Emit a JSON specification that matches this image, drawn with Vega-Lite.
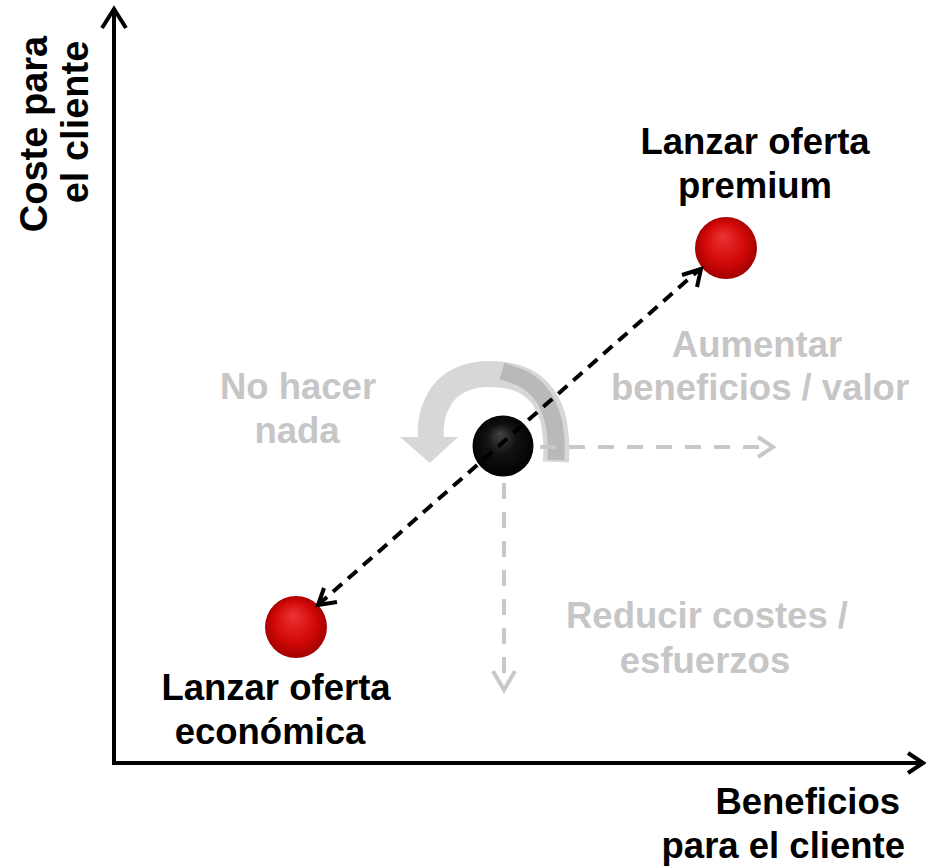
{
  "$schema": "https://vega.github.io/schema/vega-lite/v6.json",
  "width": 926,
  "height": 867,
  "padding": 0,
  "autosize": {"type": "none"},
  "background": "white",
  "config": {"view": {"stroke": null}},
  "datasets": {
    "trazos": [
      {"serie": "eje_y", "x": 114, "y": 102, "orden": 1},
      {"serie": "eje_y", "x": 114, "y": 857, "orden": 2},
      {"serie": "punta_y", "x": 102, "y": 839, "orden": 1},
      {"serie": "punta_y", "x": 114, "y": 858, "orden": 2},
      {"serie": "punta_y", "x": 126, "y": 839, "orden": 3},
      {"serie": "eje_x", "x": 112, "y": 104, "orden": 1},
      {"serie": "eje_x", "x": 922, "y": 104, "orden": 2},
      {"serie": "punta_x", "x": 908, "y": 114, "orden": 1},
      {"serie": "punta_x", "x": 923, "y": 104, "orden": 2},
      {"serie": "punta_x", "x": 908, "y": 94, "orden": 3},
      {"serie": "flecha_negra", "x": 318, "y": 262, "orden": 1},
      {"serie": "flecha_negra", "x": 700, "y": 598, "orden": 2},
      {"serie": "punta_negra_sup", "x": 682, "y": 592, "orden": 1},
      {"serie": "punta_negra_sup", "x": 701, "y": 598, "orden": 2},
      {"serie": "punta_negra_sup", "x": 697, "y": 580, "orden": 3},
      {"serie": "punta_negra_inf", "x": 337, "y": 265, "orden": 1},
      {"serie": "punta_negra_inf", "x": 318, "y": 262, "orden": 2},
      {"serie": "punta_negra_inf", "x": 324, "y": 279, "orden": 3},
      {"serie": "gris_h", "x": 540, "y": 420, "orden": 1},
      {"serie": "gris_h", "x": 772, "y": 420, "orden": 2},
      {"serie": "punta_gris_h", "x": 758, "y": 430, "orden": 1},
      {"serie": "punta_gris_h", "x": 773, "y": 420, "orden": 2},
      {"serie": "punta_gris_h", "x": 758, "y": 410, "orden": 3},
      {"serie": "gris_v", "x": 504, "y": 384, "orden": 1},
      {"serie": "gris_v", "x": 504, "y": 179, "orden": 2},
      {"serie": "punta_gris_v", "x": 493, "y": 196, "orden": 1},
      {"serie": "punta_gris_v", "x": 504, "y": 177, "orden": 2},
      {"serie": "punta_gris_v", "x": 515, "y": 196, "orden": 3},
      {"serie": "arco", "x": 556, "y": 405, "orden": 1},
      {"serie": "arco", "x": 556, "y": 427, "orden": 2},
      {"serie": "arco", "x": 552, "y": 452, "orden": 3},
      {"serie": "arco", "x": 540, "y": 474, "orden": 4},
      {"serie": "arco", "x": 520, "y": 488, "orden": 5},
      {"serie": "arco", "x": 490, "y": 493, "orden": 6},
      {"serie": "arco", "x": 465, "y": 489, "orden": 7},
      {"serie": "arco", "x": 446, "y": 477, "orden": 8},
      {"serie": "arco", "x": 435, "y": 459, "orden": 9},
      {"serie": "arco", "x": 431, "y": 442, "orden": 10},
      {"serie": "arco", "x": 431, "y": 428, "orden": 11},
      {"serie": "arco_sombra", "x": 502, "y": 496, "orden": 1},
      {"serie": "arco_sombra", "x": 527, "y": 486, "orden": 2},
      {"serie": "arco_sombra", "x": 544, "y": 469, "orden": 3},
      {"serie": "arco_sombra", "x": 553, "y": 447, "orden": 4},
      {"serie": "arco_sombra", "x": 556, "y": 427, "orden": 5},
      {"serie": "arco_sombra", "x": 556, "y": 407, "orden": 6}
    ],
    "puntas_arco": [
      {"x": 429, "y": 417}
    ],
    "esferas": [
      {"nombre": "premium", "x": 726, "y": 619},
      {"nombre": "económica", "x": 296, "y": 240},
      {"nombre": "actual", "x": 503, "y": 421}
    ],
    "textos": [
      {"texto": "Lanzar oferta", "x": 755, "y": 713, "grupo": "negro", "tipo": "centro"},
      {"texto": "premium", "x": 755, "y": 669, "grupo": "negro", "tipo": "centro"},
      {"texto": "Lanzar oferta", "x": 276, "y": 167, "grupo": "negro", "tipo": "centro"},
      {"texto": "económica", "x": 270, "y": 123, "grupo": "negro", "tipo": "centro"},
      {"texto": "Aumentar", "x": 757, "y": 510, "grupo": "gris", "tipo": "centro"},
      {"texto": "beneficios / valor", "x": 760, "y": 467, "grupo": "gris", "tipo": "centro"},
      {"texto": "Reducir costes /", "x": 707, "y": 239, "grupo": "gris", "tipo": "centro"},
      {"texto": "esfuerzos", "x": 705, "y": 194, "grupo": "gris", "tipo": "centro"},
      {"texto": "No hacer", "x": 298, "y": 468, "grupo": "gris", "tipo": "centro"},
      {"texto": "nada", "x": 297, "y": 424, "grupo": "gris", "tipo": "centro"},
      {"texto": "Beneficios", "x": 900, "y": 53, "grupo": "negro", "tipo": "derecha"},
      {"texto": "para el cliente", "x": 905, "y": 9, "grupo": "negro", "tipo": "derecha"},
      {"texto": "Coste para", "x": 47, "y": 733, "grupo": "negro", "tipo": "vertical"},
      {"texto": "el cliente", "x": 88, "y": 745, "grupo": "negro", "tipo": "vertical"}
    ]
  },
  "encoding": {
    "x": {"field": "x", "type": "quantitative", "scale": {"domain": [0, 926], "nice": false, "zero": false}, "axis": null},
    "y": {"field": "y", "type": "quantitative", "scale": {"domain": [0, 867], "nice": false, "zero": false}, "axis": null}
  },
  "layer": [
    {
      "data": {"name": "trazos"},
      "transform": [{"filter": {"field": "serie", "equal": "arco"}}],
      "mark": {"type": "line", "interpolate": "cardinal", "strokeWidth": 26, "color": "#d7d7d7", "strokeCap": "butt"},
      "encoding": {"order": {"field": "orden", "type": "quantitative"}}
    },
    {
      "data": {"name": "trazos"},
      "transform": [{"filter": {"field": "serie", "equal": "arco_sombra"}}],
      "mark": {"type": "line", "interpolate": "cardinal", "strokeWidth": 17, "color": "#b9b9b9", "strokeCap": "butt"},
      "encoding": {"order": {"field": "orden", "type": "quantitative"}}
    },
    {
      "data": {"name": "puntas_arco"},
      "mark": {"type": "point", "shape": "M -1 -0.45 L 1 -0.45 L 0.03 0.45 Z", "filled": true, "size": 3364, "color": "#d7d7d7", "opacity": 1, "strokeWidth": 0}
    },
    {
      "data": {"name": "trazos"},
      "transform": [{"filter": {"field": "serie", "oneOf": ["gris_h", "gris_v"]}}],
      "mark": {"type": "line", "strokeWidth": 4, "color": "#c8c8c8", "strokeDash": [16, 13], "strokeCap": "butt"},
      "encoding": {"detail": {"field": "serie"}, "order": {"field": "orden", "type": "quantitative"}}
    },
    {
      "data": {"name": "trazos"},
      "transform": [{"filter": {"field": "serie", "oneOf": ["punta_gris_h", "punta_gris_v"]}}],
      "mark": {"type": "line", "strokeWidth": 4, "color": "#c8c8c8", "strokeJoin": "miter"},
      "encoding": {"detail": {"field": "serie"}, "order": {"field": "orden", "type": "quantitative"}}
    },
    {
      "data": {"name": "esferas"},
      "transform": [{"filter": {"field": "nombre", "oneOf": ["premium", "económica"]}}],
      "mark": {"type": "point", "shape": "circle", "filled": true, "size": 3844, "opacity": 1, "strokeWidth": 0,
        "fill": {"gradient": "radial", "x1": 0.45, "y1": 0.3, "r1": 0, "x2": 0.5, "y2": 0.5, "r2": 0.55,
          "stops": [{"offset": 0, "color": "#ec3434"}, {"offset": 0.6, "color": "#d20808"}, {"offset": 1, "color": "#9a0000"}]}}
    },
    {
      "data": {"name": "esferas"},
      "transform": [{"filter": {"field": "nombre", "equal": "actual"}}],
      "mark": {"type": "point", "shape": "circle", "filled": true, "size": 3721, "opacity": 1, "strokeWidth": 0,
        "fill": {"gradient": "radial", "x1": 0.45, "y1": 0.3, "r1": 0, "x2": 0.5, "y2": 0.5, "r2": 0.55,
          "stops": [{"offset": 0, "color": "#444444"}, {"offset": 0.45, "color": "#111111"}, {"offset": 1, "color": "#000000"}]}}
    },
    {
      "data": {"name": "trazos"},
      "transform": [{"filter": {"field": "serie", "equal": "flecha_negra"}}],
      "mark": {"type": "line", "strokeWidth": 4, "color": "#000000", "strokeDash": [12, 8], "strokeCap": "butt"},
      "encoding": {"order": {"field": "orden", "type": "quantitative"}}
    },
    {
      "data": {"name": "trazos"},
      "transform": [{"filter": {"field": "serie", "oneOf": ["eje_y", "eje_x", "punta_y", "punta_x", "punta_negra_sup", "punta_negra_inf"]}}],
      "mark": {"type": "line", "strokeWidth": 4, "color": "#000000", "strokeJoin": "miter"},
      "encoding": {"detail": {"field": "serie"}, "order": {"field": "orden", "type": "quantitative"}}
    },
    {
      "data": {"name": "textos"},
      "transform": [{"filter": {"field": "tipo", "equal": "centro"}}],
      "mark": {"type": "text", "font": "Liberation Sans", "fontWeight": "bold", "fontSize": 36.5, "align": "center", "baseline": "alphabetic"},
      "encoding": {
        "text": {"field": "texto"},
        "color": {"field": "grupo", "type": "nominal", "scale": {"domain": ["negro", "gris"], "range": ["#000000", "#c6c6c6"]}, "legend": null}
      }
    },
    {
      "data": {"name": "textos"},
      "transform": [{"filter": {"field": "tipo", "equal": "derecha"}}],
      "mark": {"type": "text", "font": "Liberation Sans", "fontWeight": "bold", "fontSize": 36.5, "align": "right", "baseline": "alphabetic", "color": "#000000"},
      "encoding": {"text": {"field": "texto"}}
    },
    {
      "data": {"name": "textos"},
      "transform": [{"filter": {"field": "tipo", "equal": "vertical"}}],
      "mark": {"type": "text", "font": "Liberation Sans", "fontWeight": "bold", "fontSize": 38, "align": "center", "baseline": "alphabetic", "angle": 270, "color": "#000000"},
      "encoding": {"text": {"field": "texto"}}
    }
  ]
}
